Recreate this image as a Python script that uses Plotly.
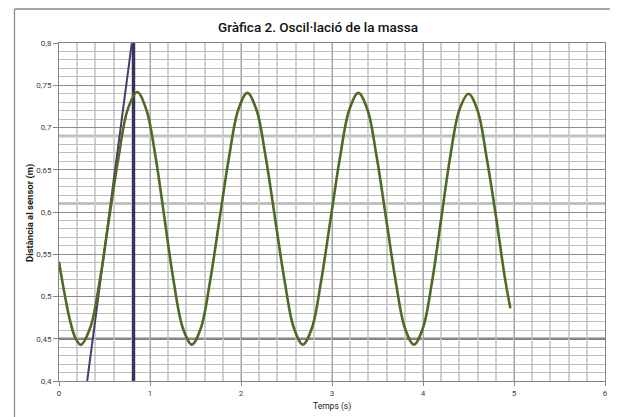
import plotly.graph_objects as go

# ---- data ----
time_s = [0.00, 0.06, 0.12, 0.18, 0.24,
          0.343, 0.447, 0.55, 0.653, 0.757, 0.86,
          0.96, 1.06, 1.16, 1.26, 1.36, 1.46,
          1.56, 1.66, 1.765, 1.87, 1.97, 2.07,
          2.17, 2.27, 2.375, 2.48, 2.58, 2.68,
          2.78, 2.88, 2.985, 3.09, 3.19, 3.29,
          3.39, 3.49, 3.595, 3.70, 3.80, 3.90,
          4.00, 4.10, 4.20, 4.30, 4.40, 4.50,
          4.60, 4.70, 4.80, 4.90, 4.96]
distance_m = [0.541, 0.504, 0.472, 0.451, 0.443,
              0.463, 0.518, 0.592, 0.664, 0.722, 0.742,
              0.721, 0.666, 0.592, 0.518, 0.463, 0.443,
              0.463, 0.518, 0.592, 0.666, 0.721, 0.741,
              0.721, 0.666, 0.592, 0.518, 0.463, 0.443,
              0.463, 0.518, 0.592, 0.666, 0.721, 0.741,
              0.721, 0.666, 0.592, 0.518, 0.463, 0.443,
              0.463, 0.518, 0.592, 0.666, 0.721, 0.740,
              0.720, 0.664, 0.596, 0.522, 0.486]

tangent_t = [0.31, 0.80]
tangent_y = [0.40, 0.80]
vline_t = [0.82, 0.82]
vline_y = [0.40, 0.80]

x_ticks = [0, 1, 2, 3, 4, 5, 6]
y_ticks = [0.40, 0.45, 0.50, 0.55, 0.60, 0.65, 0.70, 0.75, 0.80]
y_ticktext = ["0,4", "0,45", "0,5", "0,55", "0,6", "0,65", "0,7", "0,75", "0,8"]
highlight_y_light = [0.69, 0.61]
highlight_y_dark = [0.45]

title_text = "Gràfica 2. Oscil·lació de la massa"
x_title = "Temps (s)"
y_title = "Distància al sensor (m)"

# the page body has an 8px margin; the figure is offset accordingly
OFF = 8
PAGE_W, PAGE_H = 618, 417
W, H = PAGE_W - OFF, PAGE_H - OFF
# plot area in page pixels: x 59..605, y 43..381
ML, MR, MT, MB = 59 - OFF, PAGE_W - 605, 43 - OFF, PAGE_H - 381
PW, PH = W - ML - MR, H - MT - MB


def px_x(page_x):
    return (page_x - OFF - ML) / PW


def px_y(page_y):
    return (H - MB - (page_y - OFF)) / PH


fig = go.Figure()

fig.add_trace(go.Scatter(x=vline_t, y=vline_y, mode="lines",
                         line=dict(color="#3b2f5c", width=3.2), hoverinfo="skip",
                         showlegend=False))
fig.add_trace(go.Scatter(x=tangent_t, y=tangent_y, mode="lines",
                         line=dict(color="#4a3d6b", width=2), hoverinfo="skip",
                         showlegend=False))
fig.add_trace(go.Scatter(x=time_s, y=distance_m, mode="lines",
                         line=dict(color="#4f6a24", width=2.6, shape="spline", smoothing=1.0),
                         showlegend=False))

shapes = []
for yv in highlight_y_light:
    shapes.append(dict(type="line", xref="paper", yref="y", x0=0, x1=1, y0=yv, y1=yv,
                       line=dict(color="#c4c4c4", width=3), layer="below"))
for yv in highlight_y_dark:
    shapes.append(dict(type="line", xref="paper", yref="y", x0=0, x1=1, y0=yv, y1=yv,
                       line=dict(color="#7f7f7f", width=2.5), layer="below"))
# outer chart border (left, top, right edges; bottom is cut off in the picture)
bx0, bx1, by_top, by_bot = px_x(14.5), px_x(616.5), px_y(9), px_y(430)
for (xa, ya, xb, yb) in [(bx0, by_bot, bx0, by_top), (bx0, by_top, bx1, by_top),
                         (bx1, by_top, bx1, by_bot)]:
    shapes.append(dict(type="line", xref="paper", yref="paper", x0=xa, y0=ya, x1=xb, y1=yb,
                       line=dict(color="#8a8a8a", width=1.3), layer="above"))

fig.update_layout(
    width=W, height=H,
    margin=dict(l=ML, r=MR, t=MT, b=MB, autoexpand=False),
    paper_bgcolor="white", plot_bgcolor="white",
    font=dict(family="Roboto, Liberation Sans, sans-serif", color="#404040", size=8),
    title=dict(text=title_text, x=(318 - OFF) / W, xanchor="center",
               y=1 - (27 - OFF) / H, yanchor="middle",
               font=dict(size=13.5, color="#111111", family="Roboto, sans-serif", weight=500)),
    shapes=shapes,
    annotations=[
        dict(text=x_title, xref="paper", yref="paper", x=0.5, y=px_y(406),
             xanchor="center", yanchor="middle",
             showarrow=False, font=dict(size=8.5, color="#1a1a1a")),
        dict(text=y_title, xref="paper", yref="paper", x=px_x(30), y=px_y(213),
             xanchor="center", yanchor="middle",
             textangle=-90, showarrow=False,
             font=dict(size=9.5, color="#1a1a1a", weight="bold")),
    ],
)

fig.update_xaxes(range=[0, 6], tickvals=x_ticks, ticks="outside", ticklen=4,
                 tickcolor="#868686", showline=True, linecolor="#868686", linewidth=1,
                 mirror=True, showgrid=True, gridcolor="#a6a6a6", gridwidth=1,
                 zeroline=False, automargin=False,
                 minor=dict(dtick=0.2, showgrid=True, gridcolor="#d0d0d0", gridwidth=1.6),
                 tickfont=dict(size=8, color="#404040"))
fig.update_yaxes(range=[0.4, 0.8], tickvals=y_ticks, ticktext=y_ticktext,
                 ticks="outside", ticklen=5, tickcolor="#868686",
                 showline=True, linecolor="#868686", linewidth=1, mirror=True,
                 showgrid=True, gridcolor="#8c8c8c", gridwidth=1, zeroline=False,
                 automargin=False,
                 minor=dict(dtick=0.01, showgrid=True, gridcolor="#bdbdbd", gridwidth=1),
                 tickfont=dict(size=8, color="#404040"))

fig.write_html("out.html")
